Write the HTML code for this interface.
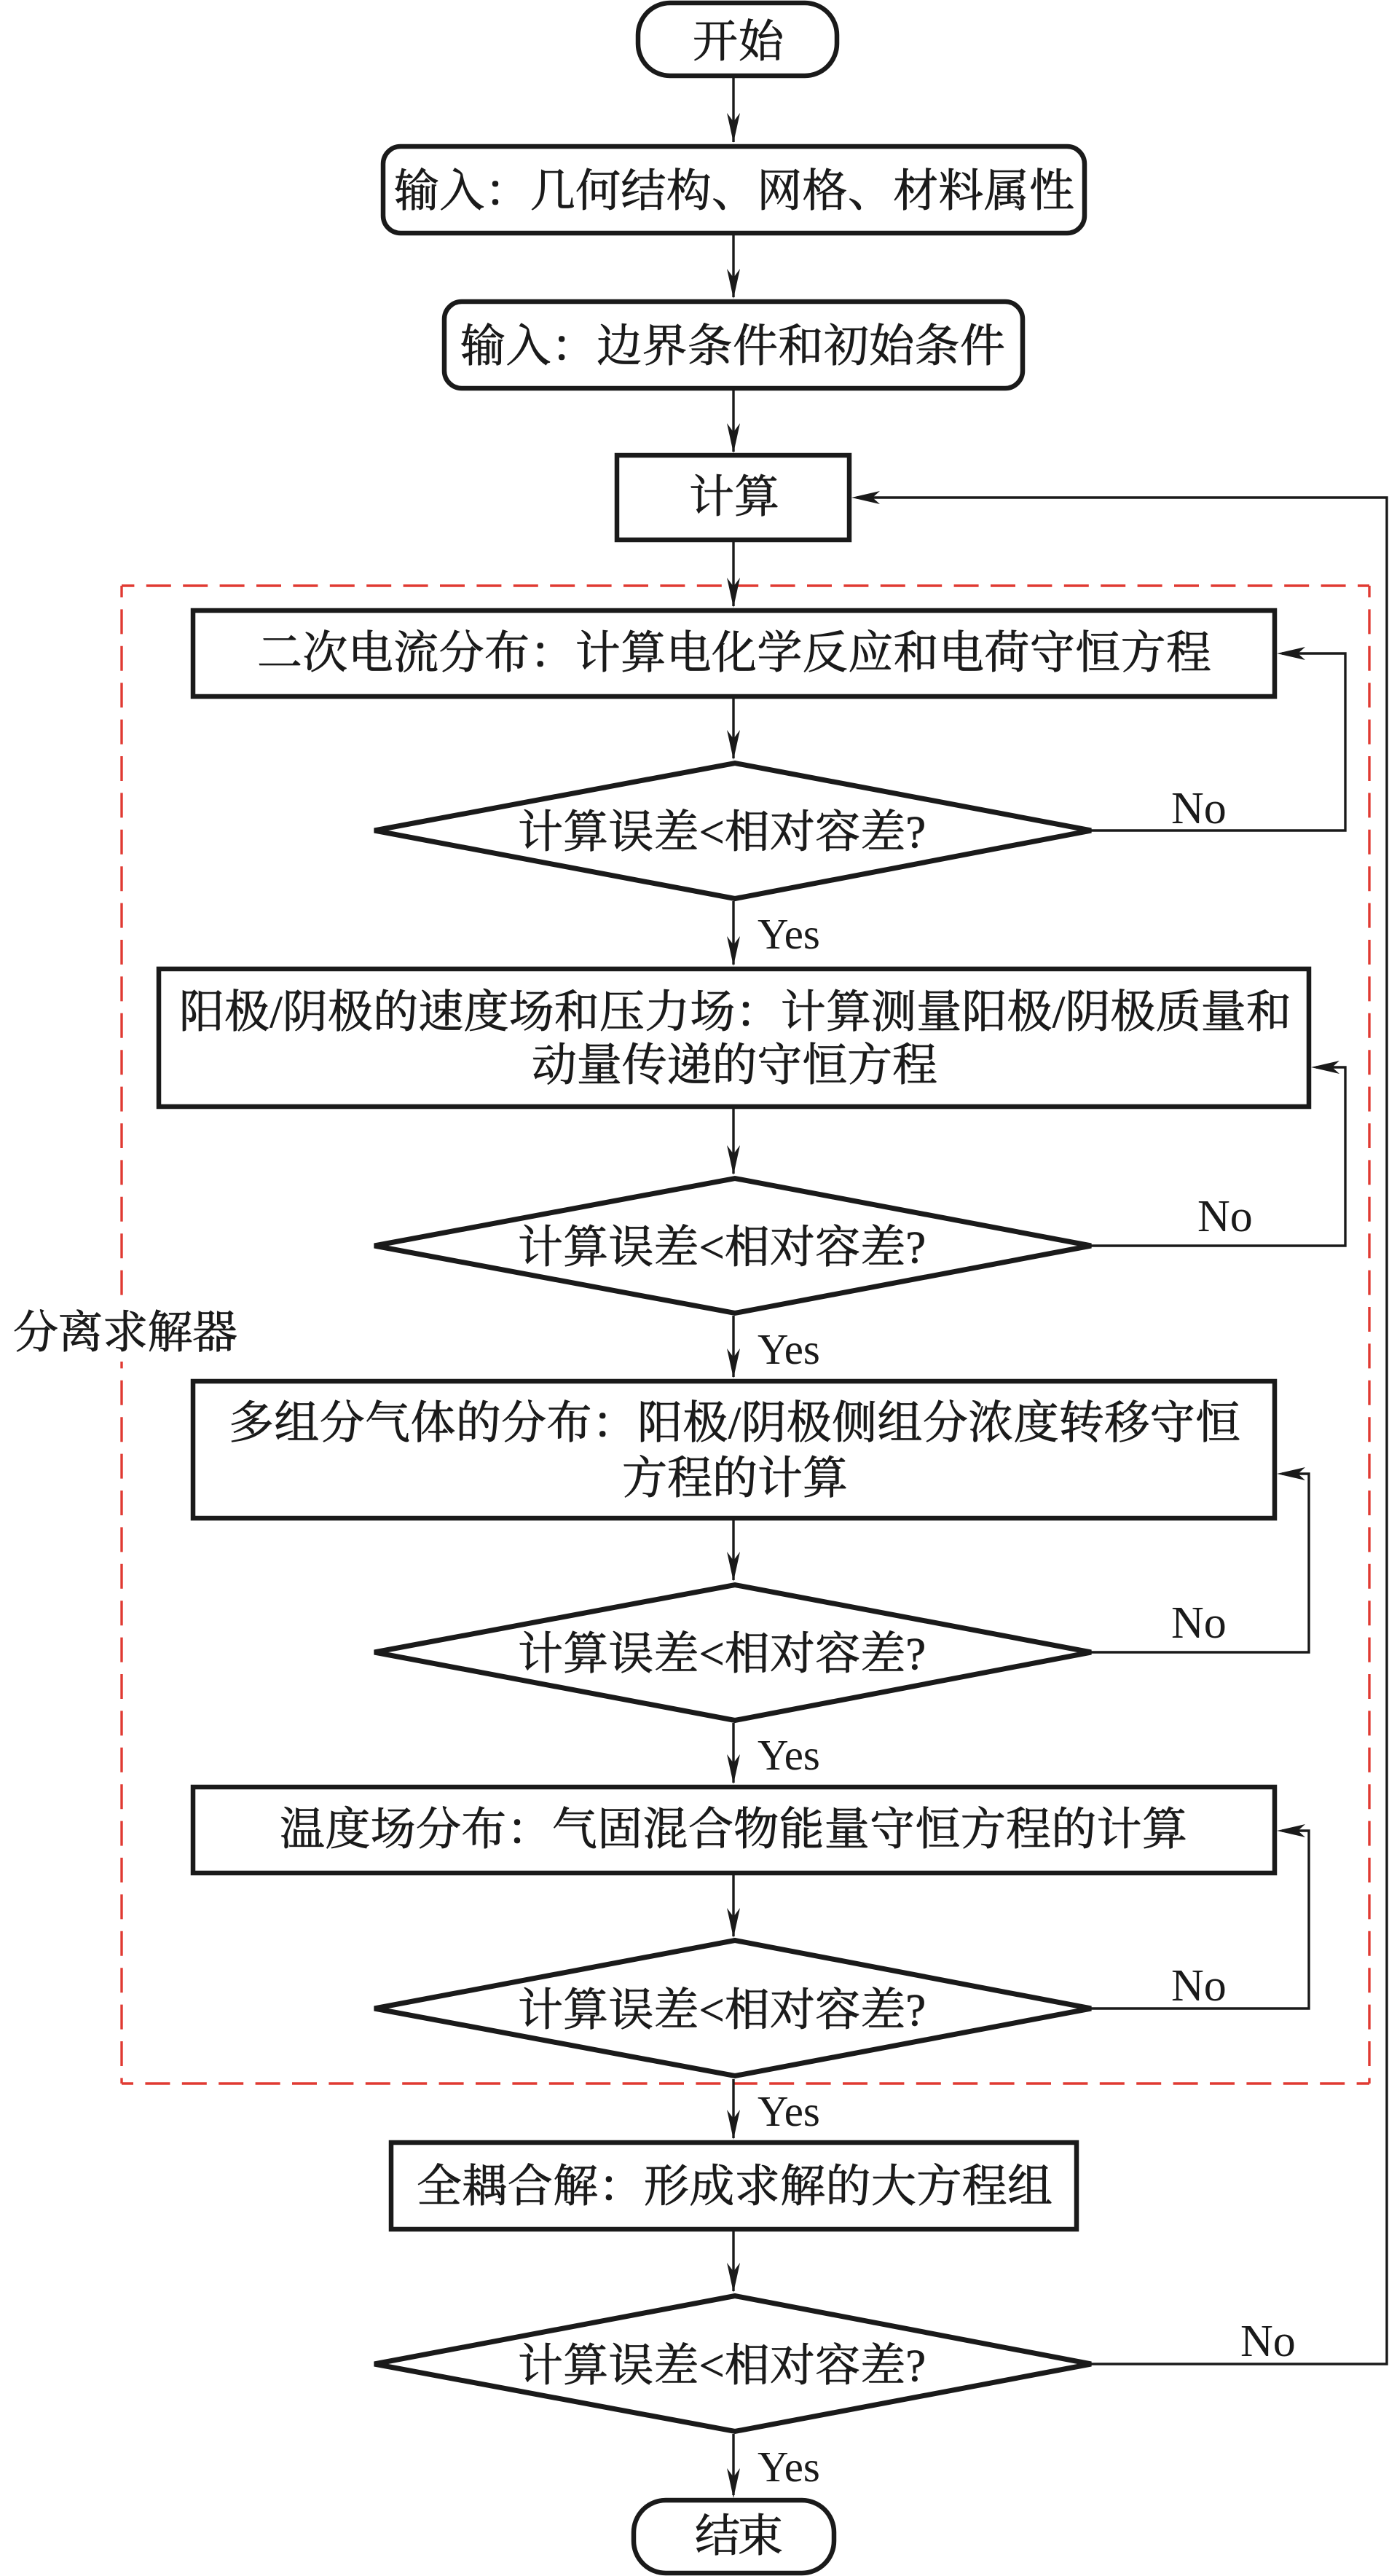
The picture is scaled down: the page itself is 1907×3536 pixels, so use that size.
<!DOCTYPE html>
<html lang="zh"><head><meta charset="utf-8"><title>分离求解器流程图</title>
<style>
html,body{margin:0;padding:0;background:#fff}
svg{display:block}
text{font-family:"Liberation Serif","Noto Serif CJK SC",serif;font-size:62px;fill:#1a1a1a;stroke:#1a1a1a;stroke-width:.8px}
.b{fill:#fff;stroke:#1a1a1a;stroke-width:6.5}
.d{fill:#fff;stroke:#1a1a1a;stroke-width:7;stroke-miterlimit:4}
.l{fill:none;stroke:#1a1a1a;stroke-width:3.4}
.r{fill:none;stroke:#e03a32;stroke-width:3.4;stroke-dasharray:34 16.4;stroke-dashoffset:18}
.a{fill:#1a1a1a}
.en{stroke-width:0}
</style></head><body>
<svg xmlns="http://www.w3.org/2000/svg" width="1907" height="3536" viewBox="0 0 1907 3536">
<defs>
<polygon id="ad" class="a" points="0,0 -9,-41 0,-29 9,-41"/>
<polygon id="al" class="a" points="0,0 39,-9 29,0 39,9"/>
</defs>
<rect width="1907" height="3536" fill="#fff"/>
<!-- dashed group -->
<path class="r" d="M1880 804H167"/>
<path class="r" d="M1880 804V2860"/>
<path class="r" d="M167 804V2860"/>
<path class="r" d="M167 2860H1880"/>
<rect x="160" y="1793" width="14" height="76" fill="#fff"/>

<!-- vertical connectors -->
<path class="l" d="M1007 105V195M1007 322V408M1007 534V620M1007 744V832M1007 959V1041M1007 1237V1324M1007 1522V1611M1007 1806V1890M1007 2087V2169M1007 2365V2447M1007 2574V2658M1007 2854V2935M1007 3063V3145M1007 3341V3425"/>
<use href="#ad" x="1007" y="196"/><use href="#ad" x="1007" y="410"/><use href="#ad" x="1007" y="622"/><use href="#ad" x="1007" y="834"/><use href="#ad" x="1007" y="1043"/><use href="#ad" x="1007" y="1326"/><use href="#ad" x="1007" y="1613"/><use href="#ad" x="1007" y="1892"/><use href="#ad" x="1007" y="2171"/><use href="#ad" x="1007" y="2449"/><use href="#ad" x="1007" y="2660"/><use href="#ad" x="1007" y="2937"/><use href="#ad" x="1007" y="3147"/><use href="#ad" x="1007" y="3429"/>

<!-- feedback connectors -->
<path class="l" d="M1490 1140H1847V897H1760"/>
<path class="l" d="M1490 1710H1847V1465H1807"/>
<path class="l" d="M1490 2268H1797V2023H1760"/>
<path class="l" d="M1490 2757H1797V2513H1760"/>
<path class="l" d="M1490 3245H1904V683H1176"/>
<use href="#al" x="1753" y="897"/><use href="#al" x="1800" y="1465"/><use href="#al" x="1753" y="2023"/><use href="#al" x="1753" y="2513"/><use href="#al" x="1169" y="683"/>

<!-- nodes -->
<rect class="b" x="876" y="4" width="273" height="100" rx="44"/>
<rect class="b" x="526" y="201" width="963" height="119" rx="24"/>
<rect class="b" x="610" y="414" width="794" height="119" rx="24"/>
<rect class="b" x="847" y="625" width="319" height="116"/>
<rect class="b" x="265" y="838" width="1485" height="118"/>
<polygon class="d" points="514,1140 1009,1047.5 1498,1140 1009,1233.5"/>
<rect class="b" x="218" y="1330" width="1579" height="189"/>
<polygon class="d" points="514,1710 1009,1617.5 1498,1710 1009,1802.5"/>
<rect class="b" x="265" y="1896" width="1485" height="188"/>
<polygon class="d" points="514,2268 1009,2175.5 1498,2268 1009,2361.5"/>
<rect class="b" x="265" y="2453" width="1485" height="118"/>
<polygon class="d" points="514,2757 1009,2663.5 1498,2757 1009,2849.5"/>
<rect class="b" x="537" y="2941" width="941" height="119"/>
<polygon class="d" points="514,3245 1009,3151.5 1498,3245 1009,3337.5"/>
<rect class="b" x="870" y="3432" width="275" height="100" rx="44"/>

<!-- node labels -->
<text x="951" y="78" textLength="125">开始</text>
<text x="541" y="283" textLength="934">输入：几何结构、网格、材料属性</text>
<text x="632" y="496" textLength="748">输入：边界条件和初始条件</text>
<text x="946" y="703" textLength="124">计算</text>
<text x="353" y="917" textLength="1310">二次电流分布：计算电化学反应和电荷守恒方程</text>
<text x="711" y="1163" textLength="560">计算误差&lt;相对容差?</text>
<text x="246" y="1410" textLength="1527">阳极/阴极的速度场和压力场：计算测量阳极/阴极质量和</text>
<text x="730" y="1483" textLength="557">动量传递的守恒方程</text>
<text x="711" y="1733" textLength="560">计算误差&lt;相对容差?</text>
<text x="314" y="1974" textLength="1389">多组分气体的分布：阳极/阴极侧组分浓度转移守恒</text>
<text x="854" y="2050" textLength="310">方程的计算</text>
<text x="711" y="2291" textLength="560">计算误差&lt;相对容差?</text>
<text x="384" y="2532" textLength="1246">温度场分布：气固混合物能量守恒方程的计算</text>
<text x="711" y="2780" textLength="560">计算误差&lt;相对容差?</text>
<text x="572" y="3022" textLength="873">全耦合解：形成求解的大方程组</text>
<text x="711" y="3268" textLength="560">计算误差&lt;相对容差?</text>
<text x="954" y="3502" textLength="121">结束</text>
<text x="18" y="1850" textLength="308">分离求解器</text>

<!-- connector labels -->
<text class="en" x="1608" y="1130">No</text>
<text class="en" x="1644" y="1690">No</text>
<text class="en" x="1608" y="2248">No</text>
<text class="en" x="1608" y="2746">No</text>
<text class="en" x="1703" y="3234">No</text>
<text class="en" x="1040" y="1302" style="font-size:59px">Yes</text>
<text class="en" x="1040" y="1872" style="font-size:59px">Yes</text>
<text class="en" x="1040" y="2429" style="font-size:59px">Yes</text>
<text class="en" x="1040" y="2918" style="font-size:59px">Yes</text>
<text class="en" x="1040" y="3406" style="font-size:59px">Yes</text>
</svg>
</body></html>
